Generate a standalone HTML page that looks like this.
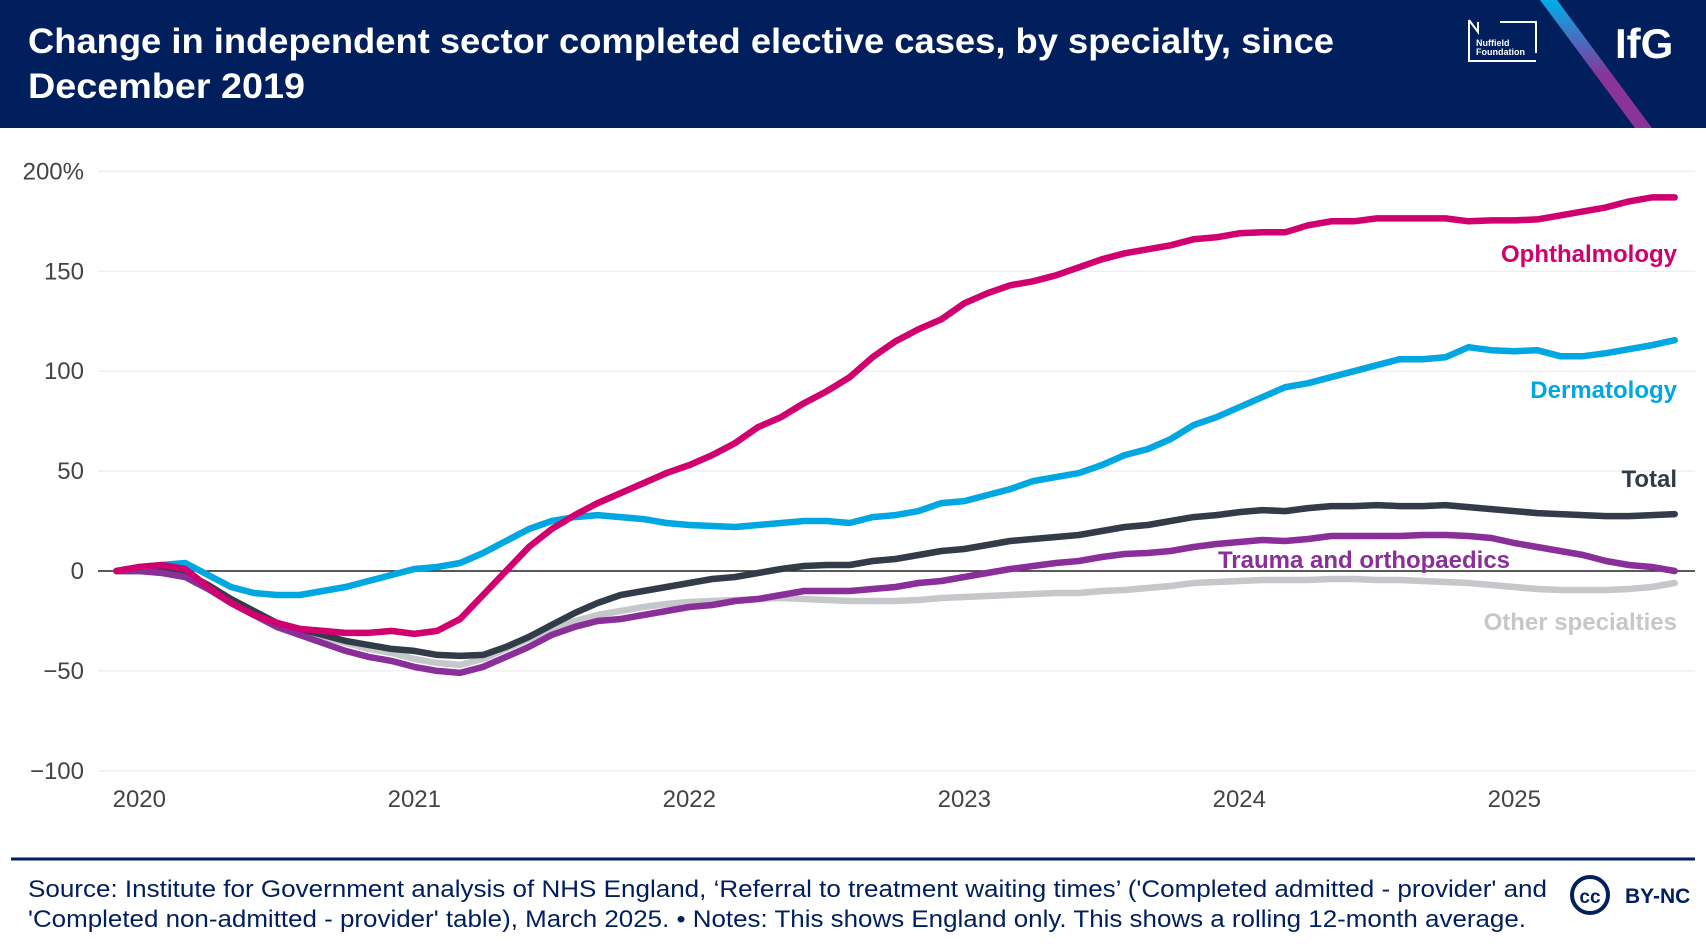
<!DOCTYPE html>
<html><head><meta charset="utf-8"><style>
html,body{margin:0;padding:0;background:#fff;}
svg{display:block;font-family:"Liberation Sans",sans-serif;}
</style></head><body>
<svg id="chart" width="1706" height="948" viewBox="0 0 1706 948">
<rect x="0" y="0" width="1706" height="128" fill="#001f5c"/>
<text x="28" y="53" fill="#fff" font-size="35" font-weight="bold" textLength="1306" lengthAdjust="spacingAndGlyphs">Change in independent sector completed elective cases, by specialty, since</text>
<text x="28" y="98" fill="#fff" font-size="35" font-weight="bold" textLength="277" lengthAdjust="spacingAndGlyphs">December 2019</text>
<g>
<path d="M1469 20 L1469 61 L1536 61 M1469 20 L1478 32 L1478 22 M1500 22 L1536 22 L1536 53" stroke="#fff" stroke-width="2" fill="none"/>
<text x="1476" y="46" fill="#fff" font-size="9" font-weight="bold">Nuffield</text>
<text x="1476" y="55" fill="#fff" font-size="9" font-weight="bold">Foundation</text>
</g>
<defs><linearGradient id="gr" x1="0" y1="0" x2="0" y2="1"><stop offset="0" stop-color="#00aee8"/><stop offset="0.6" stop-color="#8a3399"/><stop offset="1" stop-color="#8a3399"/></linearGradient></defs>
<polygon points="1540,0 1557,0 1652,128 1635,128" fill="url(#gr)"/>
<text x="1615" y="58" fill="#fff" font-size="42" font-weight="bold">IfG</text>
<g id="grid"></g>
<g id="series"></g>
<g id="labels"></g>
<line x1="11" y1="859" x2="1695" y2="859" stroke="#001f5c" stroke-width="3"/>
<text x="28" y="897" fill="#001f5c" font-size="24" textLength="1519" lengthAdjust="spacingAndGlyphs">Source: Institute for Government analysis of NHS England, ‘Referral to treatment waiting times’ ('Completed admitted - provider' and</text>
<text x="28" y="927" fill="#001f5c" font-size="24" textLength="1498" lengthAdjust="spacingAndGlyphs">'Completed non-admitted - provider' table), March 2025. • Notes: This shows England only. This shows a rolling 12-month average.</text>
<g>
<circle cx="1590" cy="895" r="18" fill="none" stroke="#001f5c" stroke-width="4"/>
<text x="1590" y="903" fill="#001f5c" font-size="19" font-weight="bold" text-anchor="middle">cc</text>
<text x="1625" y="903" fill="#001f5c" font-size="21" font-weight="bold">BY-NC</text>
</g>
</svg>
<script>
const yTicks=[200,150,100,50,0,-50,-100];
const yTickLabels=["200%","150","100","50","0","−50","−100"];
const xYears=[2020,2021,2022,2023,2024,2025];
const ophthalmology=[0,2,3,1,-8,-16,-22,-26,-29,-30,-31,-31,-30,-31.5,-30,-24,-12,0,12,21,28,34,39,44,49,53,58,64,72,77,84,90,97,107,115,121,126,134,139,143,145,148,152,156,159,161,163,166,167,169,169.5,169.5,173,175,175,176.5,176.5,176.5,176.5,175,175.5,175.5,176,178,180,182,185,187,187];
const dermatology=[0,2,3,4,-2,-8,-11,-12,-12,-10,-8,-5,-2,1,2,4,9,15,21,25,27,28,27,26,24,23,22.5,22,23,24,25,25,24,27,28,30,34,35,38,41,45,47,49,53,58,61,66,73,77,82,87,92,94,97,100,103,106,106,107,112,110.5,110,110.5,107.5,107.5,109,111,113,115.5];
const total=[0,0,0,-1,-7,-14,-20,-26,-29,-32,-35,-37,-39,-40,-42,-42.5,-42,-38,-33,-27,-21,-16,-12,-10,-8,-6,-4,-3,-1,1,2.5,3,3,5,6,8,10,11,13,15,16,17,18,20,22,23,25,27,28,29.5,30.5,30,31.5,32.5,32.5,33,32.5,32.5,33,32,31,30,29,28.5,28,27.5,27.5,28,28.5];
const trauma=[0,0,-1,-3,-9,-16,-22,-28,-32,-36,-40,-43,-45,-48,-50,-51,-48,-43,-38,-32,-28,-25,-24,-22,-20,-18,-17,-15,-14,-12,-10,-10,-10,-9,-8,-6,-5,-3,-1,1,2.5,4,5,7,8.5,9,10,12,13.5,14.5,15.5,15,16,17.5,17.5,17.5,17.5,18,18,17.5,16.5,14,12,10,8,5,3,2,0];
const other=[0,0,-1,-3,-9,-15,-21,-27,-30,-33,-36,-39,-41,-44,-46,-47,-44,-39,-34,-29,-25,-22,-20,-18,-16.5,-15.5,-15,-14.5,-14,-13.5,-14,-14.5,-15,-15,-15,-14.5,-13.5,-13,-12.5,-12,-11.5,-11,-11,-10,-9.5,-8.5,-7.5,-6,-5.5,-5,-4.5,-4.5,-4.5,-4,-4,-4.5,-4.5,-5,-5.5,-6,-7,-8,-9,-9.5,-9.5,-9.5,-9,-8,-6];

const NS="http://www.w3.org/2000/svg";
const y0=571, perUnit=99.9/50;
function yScale(v){return y0-v*perUnit;}
const x0=116.4, perMonth=275/12;
function xScale(i){return x0+i*perMonth;}
function mk(tag,attrs,parent){const e=document.createElementNS(NS,tag);for(const k in attrs)e.setAttribute(k,attrs[k]);parent.appendChild(e);return e;}
const grid=document.getElementById('grid');
yTicks.forEach((t,k)=>{
  if(t!==0){const l=mk('line',{x1:98,x2:1695,y1:yScale(t),y2:yScale(t),stroke:'#ececec','stroke-width':1.2},grid);
  
  }
  const tx=mk('text',{x:84,y:yScale(t)+8,'text-anchor':'end','font-size':24,fill:'#444'},grid);
  tx.textContent=yTickLabels[k];
  
  
});
xYears.forEach(yr=>{
  const m=(yr-2020)*12+1;
  const tx=mk('text',{x:xScale(m),y:807,'text-anchor':'middle','font-size':24,fill:'#444'},grid);
  tx.textContent=String(yr);
  
  
});
const zl=mk('line',{x1:98,x2:1695,y1:y0,y2:y0,stroke:'#222','stroke-width':1.5},grid);


const ser=document.getElementById('series');
const list=[[other,'#c5c7ca','other-specialties-line'],[total,'#323c48','total-line'],[trauma,'#8a2f9a','trauma-line'],[dermatology,'#00a7e1','dermatology-line'],[ophthalmology,'#d1006f','ophthalmology-line']];
list.forEach(([d,c,n])=>{
  const p=mk('path',{d:d.map((v,i)=>(i?'L':'M')+xScale(i).toFixed(1)+' '+yScale(v).toFixed(1)).join(' '),fill:'none',stroke:c,'stroke-width':6.5,'stroke-linejoin':'round','stroke-linecap':'round'},ser);
  
  
});
const lab=document.getElementById('labels');
[['Ophthalmology',1677,262,'end','#d1006f','ophthalmology-label'],['Dermatology',1677,398,'end','#00a7e1','dermatology-label'],['Total',1677,487,'end','#323c48','total-label'],['Trauma and orthopaedics',1364,568,'middle','#8a2f9a','trauma-label'],['Other specialties',1677,630,'end','#c5c7ca','other-specialties-label']].forEach(([t,x,y,a,c,n])=>{
  const e=mk('text',{x:x,y:y,'text-anchor':a,fill:c,'font-size':24,'font-weight':'bold'},lab);
  e.textContent=t;
  
  
});
</script>
</body></html>
